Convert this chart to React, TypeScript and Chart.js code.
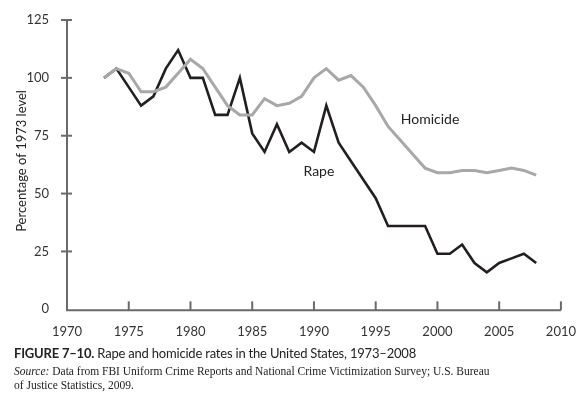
import React, { useEffect, useRef } from "react";
import { Chart, registerables } from "chart.js";

Chart.register(...registerables);

const years = [
  1973, 1974, 1975, 1976, 1977, 1978, 1979, 1980, 1981, 1982, 1983, 1984,
  1985, 1986, 1987, 1988, 1989, 1990, 1991, 1992, 1993, 1994, 1995, 1996,
  1997, 1998, 1999, 2000, 2001, 2002, 2003, 2004, 2005, 2006, 2007, 2008,
];
const rape = [
  100, 104, 96, 88, 92, 104, 112, 100, 100, 84, 84, 100,
  76, 68, 80, 68, 72, 68, 88, 72, 64, 56, 48, 36,
  36, 36, 36, 24, 24, 28, 20, 16, 20, 22, 24, 20,
];
const homicide = [
  100, 104, 102, 94, 94, 96, 102, 108, 104, 96, 88, 84,
  84, 91, 88, 89, 92, 100, 104, 99, 101, 96, 88, 79,
  73, 67, 61, 59, 59, 60, 60, 59, 60, 61, 60, 58,
];
const xTicks = [1970, 1975, 1980, 1985, 1990, 1995, 2000, 2005, 2010];
const yTicks = [0, 25, 50, 75, 100, 125];
const seriesLabels = [
  { text: "Homicide", x: 1999.4, y: 82 },
  { text: "Rape", x: 1990.4, y: 59.4 },
];
const yTitle = "Percentage of 1973 level";

const AXIS = "#6a6a6a";
const FONT = "Lato, 'Open Sans', sans-serif";

const axesPlugin = {
  id: "customAxes",
  beforeDatasetsDraw(chart: any) {
    const { ctx, chartArea, scales } = chart;
    const xs = scales.x;
    const ys = scales.y;
    ctx.save();
    ctx.strokeStyle = AXIS;
    ctx.lineWidth = 2;
    ctx.lineCap = "butt";
    ctx.beginPath();
    ctx.moveTo(chartArea.left, ys.getPixelForValue(125) - 1);
    ctx.lineTo(chartArea.left, chartArea.bottom + 1);
    ctx.lineTo(chartArea.right, chartArea.bottom + 1);
    ctx.stroke();
    yTicks.forEach((v) => {
      if (v === 0) return;
      const py = ys.getPixelForValue(v);
      ctx.beginPath();
      ctx.moveTo(chartArea.left - 6, py);
      ctx.lineTo(chartArea.left + 5, py);
      ctx.stroke();
    });
    xTicks.forEach((v) => {
      if (v === 1970) return;
      const px = xs.getPixelForValue(v);
      ctx.beginPath();
      ctx.moveTo(px, chartArea.bottom + 1);
      ctx.lineTo(px, chartArea.bottom - 8);
      ctx.stroke();
    });
    ctx.restore();
  },
  afterDraw(chart: any) {
    const { ctx, scales } = chart;
    ctx.save();
    ctx.fillStyle = "#222";
    ctx.font = `14px ${FONT}`;
    ctx.textAlign = "center";
    ctx.textBaseline = "middle";
    seriesLabels.forEach((l) => {
      ctx.fillText(l.text, scales.x.getPixelForValue(l.x), scales.y.getPixelForValue(l.y));
    });
    ctx.font = `13px ${FONT}`;
    ctx.translate(22, 161);
    ctx.rotate(-Math.PI / 2);
    ctx.fillText(yTitle, 0, 0);
    ctx.restore();
  },
};

export default function App() {
  const ref = useRef<HTMLCanvasElement | null>(null);
  useEffect(() => {
    if (!ref.current) return;
    const chart = new Chart(ref.current, {
      type: "line",
      data: {
        datasets: [
          {
            label: "Homicide",
            data: years.map((y, i) => ({ x: y, y: homicide[i] })),
            borderColor: "#a8a8a8",
            borderWidth: 3,
            pointRadius: 0,
            tension: 0,
          },
          {
            label: "Rape",
            data: years.map((y, i) => ({ x: y, y: rape[i] })),
            borderColor: "#231f20",
            borderWidth: 2.6,
            pointRadius: 0,
            tension: 0,
          },
        ],
      },
      options: {
        animation: false,
        responsive: false,
        devicePixelRatio: 1,
        layout: { padding: { left: 17, right: 22, top: 20, bottom: 58.7 } },
        plugins: { legend: { display: false }, tooltip: { enabled: false } },
        scales: {
          x: {
            type: "linear",
            min: 1970,
            max: 2010,
            afterFit: (s: any) => { s.height = 30; },
            afterBuildTicks: (s: any) => { s.ticks = xTicks.map((v) => ({ value: v })); },
            ticks: {
              callback: (v: any) => String(v),
              color: "#333",
              font: { family: FONT, size: 13 },
              padding: 7,
              maxRotation: 0,
              autoSkip: false,
            },
            grid: { display: false },
            border: { display: false },
          },
          y: {
            type: "linear",
            min: 0,
            max: 125,
            afterFit: (s: any) => { s.width = 50; },
            afterBuildTicks: (s: any) => { s.ticks = yTicks.map((v) => ({ value: v })); },
            ticks: {
              callback: (v: any) => String(v),
              color: "#333",
              font: { family: FONT, size: 13 },
              padding: 10,
            },
            grid: { display: false },
            border: { display: false },
          },
        },
      },
      plugins: [axesPlugin],
    });
    return () => chart.destroy();
  }, []);

  return (
    <div style={{ position: "absolute", left: 0, top: 0, width: 583, height: 398, background: "#fff", overflow: "hidden" }}>
      <canvas ref={ref} width={583} height={398} style={{ position: "absolute", left: 0, top: 0, width: 583, height: 398 }} />
      <div style={{ position: "absolute", left: 14, top: 344, fontFamily: FONT, fontSize: 13, letterSpacing: "-0.2px", color: "#222", whiteSpace: "nowrap", lineHeight: "18px" }}>
        <span style={{ fontWeight: 700 }}>FIGURE 7–10.</span> Rape and homicide rates in the United States, 1973–2008
      </div>
      <div style={{ position: "absolute", left: 14, top: 364, fontFamily: "'Liberation Serif', 'DejaVu Serif', serif", fontSize: 11.5, color: "#222", lineHeight: "14px", width: 500 }}>
        <div style={{ whiteSpace: "nowrap" }}><i>Source:</i> Data from FBI Uniform Crime Reports and National Crime Victimization Survey; U.S. Bureau</div>
        <div style={{ whiteSpace: "nowrap" }}>of Justice Statistics, 2009.</div>
      </div>
    </div>
  );
}
